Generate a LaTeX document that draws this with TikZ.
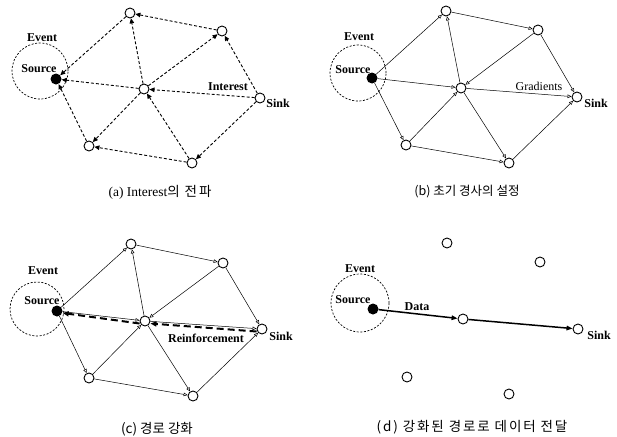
\documentclass[tikz,border=0pt]{standalone}
\usepackage{fontspec}
\setmainfont{Liberation Serif}
\newfontfamily\capfont{Noto Sans CJK KR}
\newfontfamily\capwide[LetterSpace=14]{Noto Sans CJK KR}
\usetikzlibrary{arrows.meta}
\tikzset{
  nd/.style={circle, draw, line width=0.9pt, minimum size=10pt, inner sep=0pt, fill=white},
  src/.style={circle, fill=black, minimum size=11pt, inner sep=0pt},
  evt/.style={circle, draw, dash pattern=on 2pt off 1.6pt, line width=0.7pt, inner sep=0pt},
  lbl/.style={font=\fontsize{12}{14}\selectfont\bfseries, inner sep=0pt},
  captxt/.style={font=\capfont\fontsize{12.5}{15}\selectfont, inner sep=0pt},
  da/.style={dash pattern=on 3pt off 2pt, line width=0.9pt, -{Triangle[length=5pt,width=4.5pt]}},
  ga/.style={line width=0.5pt, -{Triangle[open,length=4pt,width=3.5pt]}},
  ra/.style={dash pattern=on 7pt off 4pt, line width=2pt, -{Triangle[length=6pt,width=5pt]}},
  fa/.style={line width=1.5pt, -{Triangle[length=6pt,width=4.5pt]}}
}
\begin{document}
\begin{tikzpicture}[x=1pt,y=-1pt]
\useasboundingbox (0,0) rectangle (617,436);
% ---------- (a)
\node[evt, minimum size=56pt] (aE) at (40,71) {};
\node[nd] (a1) at (130,13) {};
\node[nd] (a2) at (222,31) {};
\node[src] (aS) at (56,79) {};
\node[nd] (aC) at (144,89) {};
\node[nd] (aK) at (260,98) {};
\node[nd] (aL) at (89,146) {};
\node[nd] (aR) at (192,163) {};
\foreach \u/\v in {K/2,K/C,K/R,2/1,C/2,R/C,C/1,C/S,C/L,1/S,L/S,R/L}
  \draw[da] (a\u) -- (a\v);
\node[lbl] (aEv) at (42,38) {Event};
\node[lbl] (aSo) at (39,69) {Source};
\node[lbl] (aIn) at (228,87) {Interest};
\node[lbl] (aSi) at (278,103) {Sink};
\node[inner sep=0pt, font=\fontsize{13.5}{15}\selectfont] (aCap) at (160,192) {(a) Interest{\capwide 의 전파}};
% ---------- (b)
\node[evt, minimum size=56pt] (bE) at (358,73) {};
\node[nd] (b1) at (446,11) {};
\node[nd] (b2) at (538,30) {};
\node[src] (bS) at (372,78) {};
\node[nd] (bC) at (461,88) {};
\node[nd] (bK) at (577,97) {};
\node[nd] (bL) at (406,145) {};
\node[nd] (bR) at (509,163) {};
\foreach \u/\v in {S/1,1/2,2/K,2/C,C/1,S/C,C/K,S/L,L/C,L/R,C/R,R/K}
  \draw[ga] (b\u) -- (b\v);
\node[lbl] (bEv) at (359,37) {Event};
\node[lbl] (bSo) at (353,70) {Source};
\node[lbl, font=\fontsize{12}{14}\selectfont] (bGr) at (539,86) {Gradients};
\node[lbl] (bSi) at (596,103) {Sink};
\node[captxt] (bCap) at (467,192) {(b) 초기 경사의 설정};
% ---------- (c)
\node[evt, minimum size=54pt] (cE) at (37,309) {};
\node[nd] (c1) at (131,244) {};
\node[nd] (c2) at (223,263) {};
\node[src] (cS) at (57,311) {};
\node[nd] (cC) at (145,321) {};
\node[nd] (cK) at (262,329) {};
\node[nd] (cL) at (89,378) {};
\node[nd] (cR) at (193,396) {};
\foreach \u/\v in {S/1,1/2,2/K,2/C,C/1,S/C,C/K,S/L,L/C,L/R,C/R,R/K}
  \draw[ga] (c\u) -- (c\v);
\draw[ra] ([yshift=-2.5pt]cK.west) -- ([yshift=-2.5pt]cC.east);
\draw[ra] ([yshift=-2.5pt]cC.west) -- ([yshift=-2pt]cS.east);
\node[lbl] (cEv) at (43,271) {Event};
\node[lbl] (cSo) at (42,301) {Source};
\node[lbl] (cRe) at (206,338) {Reinforcement};
\node[lbl] (cSi) at (281,336) {Sink};
\node[inner sep=0pt, font=\capfont\fontsize{13.5}{15}\selectfont] (cCap) at (157,429) {(c) 경로 강화};
% ---------- (d)
\node[evt, minimum size=58pt] (dE) at (360,303) {};
\node[nd] (d1) at (447,243) {};
\node[nd] (d2) at (540,262) {};
\node[src] (dS) at (373,309) {};
\node[nd] (dC) at (463,319) {};
\node[nd] (dK) at (578,329) {};
\node[nd] (dL) at (407,377) {};
\node[nd] (dR) at (509,394) {};
\draw[fa] (dS) -- (dC);
\draw[fa] (dC) -- (dK);
\node[lbl] (dEv) at (360,269) {Event};
\node[lbl] (dSo) at (353,300) {Source};
\node[lbl] (dDa) at (417,307) {Data};
\node[lbl] (dSi) at (599,335) {Sink};
\node[inner sep=0pt, font=\capwide\fontsize{13.5}{15}\selectfont] (dCap) at (472,427) {(d) 강화된 경로로 데이터 전달};
\end{tikzpicture}
\end{document}
